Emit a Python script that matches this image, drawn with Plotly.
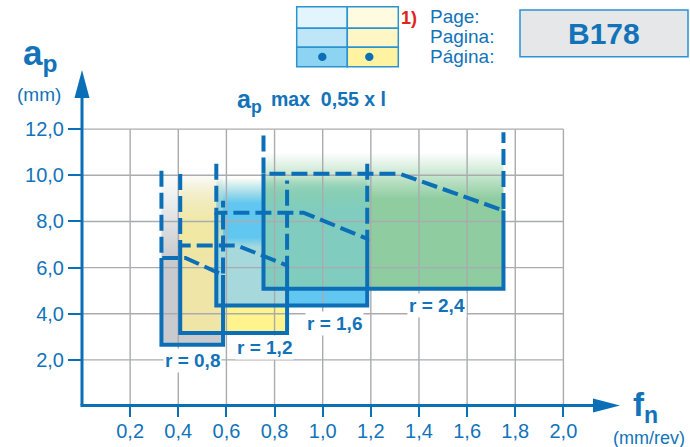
import plotly.graph_objects as go

# ---------------- data ----------------
radius_labels = ["r = 0,8", "r = 1,2", "r = 1,6", "r = 2,4"]
f_min = [0.33, 0.408, 0.558, 0.754]          # feed, left edge of each range
f_max = [0.586, 0.852, 1.185, 1.751]         # feed, right edge
ap_min = [2.66, 3.16, 4.36, 5.08]            # depth of cut, bottom
ap_top = [6.42, 6.96, 8.38, 10.07]           # ap max (flat part)
f_knee = [0.43, 0.644, 0.92, 1.32]           # feed where ap max starts to fall
ap_end = [5.68, 6.09, 7.25, 8.47]            # ap max at f_max
ap_ext_left = [10.2, 10.06, 10.5, 11.72]     # dashed extension, left side
ap_ext_right = [8.9, 9.77, 10.57, 11.87]     # dashed extension, right side

x_ticks = [0.2, 0.4, 0.6, 0.8, 1.0, 1.2, 1.4, 1.6, 1.8, 2.0]
x_tick_text = ["0,2", "0,4", "0,6", "0,8", "1,0", "1,2", "1,4", "1,6", "1,8", "2,0"]
y_ticks = [2, 4, 6, 8, 10, 12]
y_tick_text = ["2,0", "4,0", "6,0", "8,0", "10,0", "12,0"]

# ---------------- styles / positions ----------------
W, H = 690, 447
ML, MR, MT, MB = 82, 70, 70, 41
PW, PH = W - ML - MR, H - MT - MB
X_RANGE = [0, PW / 240.7]
Y_RANGE = [0, PH / 23.07]

BLUE = "#0b6fb8"
TXT = "#1273b9"
GRID = "#a9abae"
FONT = "Liberation Sans, Arial, Helvetica, sans-serif"

fill_rgb = [(200, 202, 205), (255, 243, 142), (98, 199, 240), (143, 205, 160)]
fade_full = [6.4, 6.9, 8.8, 9.0]
fade_clear = [10.2, 10.0, 9.9, 11.0]
# colours where two ranges overlap (pair of range indices -> colour, fade)
overlap_pairs = [(0, 1), (1, 2), (2, 3)]
overlap_rgb = [(238, 229, 166), (166, 216, 220), (128, 205, 192)]
overlap_full = [6.4, 6.9, 8.6]
overlap_clear = [10.0, 7.3, 9.9]
label_pos = [(0.457, 1.97), (0.76, 2.52), (1.048, 3.58), (1.476, 4.35)]


def px(xp):
    return (xp - ML) / PW


def py(yp):
    return (H - MB - yp) / PH


def faded_rect(x0, x1, y0, full_y, clear_y, rgb):
    r, g, b = rgb
    full = f"rgba({r},{g},{b},1)"
    clear = f"rgba({r},{g},{b},0)"
    t = (full_y - y0) / (clear_y - y0)
    return go.Scatter(
        x=[x0, x1, x1, x0, x0], y=[y0, y0, clear_y, clear_y, y0],
        mode="lines", line=dict(width=0), fill="toself",
        fillgradient=dict(type="vertical", start=y0, stop=clear_y,
                          colorscale=[[0, full], [t, full], [1, clear]]),
        hoverinfo="skip", showlegend=False)


fig = go.Figure()

# fills with vertical fade
for i in range(len(f_min)):
    fig.add_trace(faded_rect(f_min[i], f_max[i], ap_min[i], fade_full[i], fade_clear[i], fill_rgb[i]))

# overlap areas, computed from the ranges
for k, (i, j) in enumerate(overlap_pairs):
    x0, x1 = max(f_min[i], f_min[j]), min(f_max[i], f_max[j])
    y0 = max(ap_min[i], ap_min[j])
    if x1 > x0:
        fig.add_trace(faded_rect(x0, x1, y0, overlap_full[k], overlap_clear[k], overlap_rgb[k]))

# grid (limited to 0..2.0 x 0..12)
gx, gy = [], []
for xv in x_ticks:
    gx += [xv, xv, None]
    gy += [0, y_ticks[-1], None]
for yv in y_ticks:
    gx += [0, x_ticks[-1], None]
    gy += [yv, yv, None]
fig.add_trace(go.Scatter(x=gx, y=gy, mode="lines", line=dict(color=GRID, width=1.4),
                         hoverinfo="skip", showlegend=False))

# outlines
for i in range(len(f_min)):
    fig.add_trace(go.Scatter(
        x=[f_min[i], f_min[i], f_max[i], f_max[i]],
        y=[ap_top[i], ap_min[i], ap_min[i], ap_end[i]],
        mode="lines", line=dict(color=BLUE, width=4),
        hoverinfo="skip", showlegend=False))
    fig.add_trace(go.Scatter(
        x=[f_min[i], f_min[i], f_knee[i], f_max[i], f_max[i]],
        y=[ap_ext_left[i], ap_top[i], ap_top[i], ap_end[i], ap_ext_right[i]],
        mode="lines", line=dict(color=BLUE, width=4, dash="16px,6px"),
        hoverinfo="skip", showlegend=False))

shapes = []
# axis lines + arrowheads
shapes.append(dict(type="line", xref="paper", yref="paper", x0=px(82), y0=py(405.5),
                   x1=px(82), y1=py(96), line=dict(color=BLUE, width=3)))
shapes.append(dict(type="line", xref="paper", yref="paper", x0=px(80.5), y0=py(405.5),
                   x1=px(596), y1=py(405.5), line=dict(color=BLUE, width=3)))
shapes.append(dict(type="path", xref="paper", yref="paper",
                   path=f"M {px(82)},{py(70)} L {px(89.5)},{py(98)} L {px(74.5)},{py(98)} Z",
                   fillcolor=BLUE, line=dict(width=0)))
shapes.append(dict(type="path", xref="paper", yref="paper",
                   path=f"M {px(620)},{py(405.5)} L {px(593)},{py(398.5)} L {px(593)},{py(412.5)} Z",
                   fillcolor=BLUE, line=dict(width=0)))

# header: 2x3 page grid
cols = [296.7, 347.3, 398.3]
rows = [6.7, 28.3, 47.3, 66.7]
cell_colors = [["#e2f4fc", "#fffbe1"], ["#bee6f8", "#fff6c6"], ["#8dd4f2", "#fff2a0"]]
HB = "#2b93d1"
for ri in range(3):
    for ci in range(2):
        shapes.append(dict(type="rect", xref="paper", yref="paper",
                           x0=px(cols[ci]), x1=px(cols[ci + 1]),
                           y0=py(rows[ri + 1]), y1=py(rows[ri]),
                           fillcolor=cell_colors[ri][ci], line=dict(color=HB, width=1.5)))
for cx in (322.3, 369.3):
    shapes.append(dict(type="circle", xref="paper", yref="paper",
                       x0=px(cx - 4.2), x1=px(cx + 4.2), y0=py(56.9 + 4.2), y1=py(56.9 - 4.2),
                       fillcolor=BLUE, line=dict(width=0)))
shapes.append(dict(type="rect", xref="paper", yref="paper", x0=px(520), x1=px(688),
                   y0=py(56.7), y1=py(10), fillcolor="#e6e7e8", line=dict(color=HB, width=1.5)))

annotations = []


def ann(text, xp, yp, size, color=TXT, xanchor="center", yanchor="middle", bold=False):
    annotations.append(dict(text=f"<b>{text}</b>" if bold else text, xref="paper", yref="paper",
                            x=px(xp), y=py(yp), xanchor=xanchor, yanchor=yanchor, showarrow=False,
                            font=dict(family=FONT, size=size, color=color)))


# region labels (data coords)
for i, lab in enumerate(radius_labels):
    annotations.append(dict(text=f"<b>{lab}</b>", x=label_pos[i][0], y=label_pos[i][1],
                            xref="x", yref="y", showarrow=False, bgcolor="white", borderpad=1,
                            font=dict(family=FONT, size=19, color=TXT)))

ann("a<sub>p</sub>", 40, 55, 35, bold=True)
ann("(mm)", 38.5, 95, 19)
ann("f<sub>n</sub>", 645, 407, 33, bold=True)
ann("(mm/rev)", 611, 438, 18, xanchor="left")
ann("a<sub>p</sub>", 235, 101, 25, bold=True, xanchor="left")
ann("max&nbsp;&nbsp;0,55 x l", 269, 98.5, 19.5, bold=True, xanchor="left")
ann("1)", 409, 17.5, 18, color="#e2231a", bold=True)
ann("Page:", 428, 16.5, 19, xanchor="left")
ann("Pagina:", 428, 37, 19, xanchor="left")
ann("Página:", 428, 56.5, 19, xanchor="left")
ann("B178", 604, 33.5, 30, bold=True)

fig.update_layout(
    width=W, height=H, margin=dict(l=ML, r=MR, t=MT, b=MB, autoexpand=False),
    paper_bgcolor="white", plot_bgcolor="white",
    showlegend=False, shapes=shapes, annotations=annotations,
    xaxis=dict(range=X_RANGE, showgrid=False, zeroline=False, showline=False,
               tickvals=x_ticks, ticktext=x_tick_text, ticks="outside", ticklen=10,
               tickwidth=2, tickcolor=BLUE, tickfont=dict(family=FONT, size=20, color=TXT),
               ticklabelstandoff=-3, fixedrange=True, automargin=False),
    yaxis=dict(range=Y_RANGE, showgrid=False, zeroline=False, showline=False,
               tickvals=y_ticks, ticktext=y_tick_text, ticks="outside", ticklen=13,
               tickwidth=2, tickcolor=BLUE, tickfont=dict(family=FONT, size=20, color=TXT),
               fixedrange=True, automargin=False),
)

fig.write_html("out.html", config={"displayModeBar": False},
               post_script="document.body.style.margin='0';document.body.style.overflow='hidden';")
